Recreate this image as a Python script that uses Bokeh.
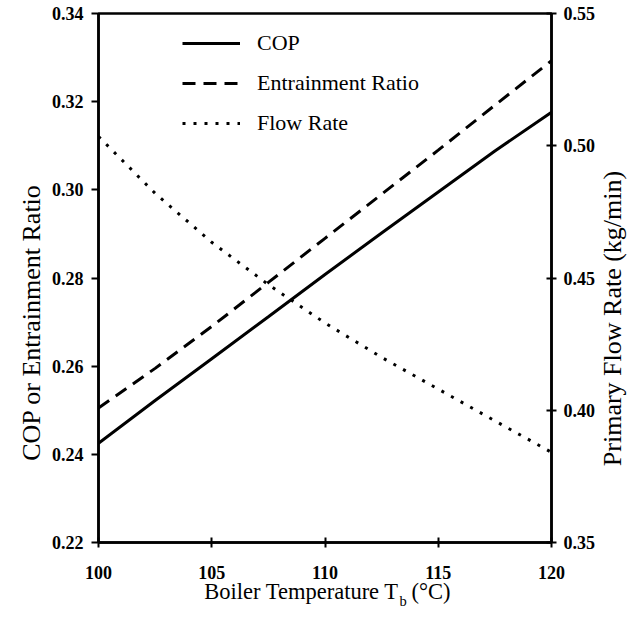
import math
from bokeh.plotting import figure
from bokeh.layouts import row
from bokeh.models import (Range1d, LinearAxis, FixedTicker, Legend, LegendItem,
                          PrintfTickFormatter, Label)
from bokeh.embed import file_html
from bokeh.resources import INLINE

# ---- data ----
temperature = [100, 102.5, 105, 107.5, 110, 112.5, 115, 117.5, 120]
cop = [0.2425, 0.2522, 0.2617, 0.2712, 0.2808, 0.2902, 0.2995, 0.3088, 0.3176]
entrainment = [0.2505, 0.2595, 0.2690, 0.2790, 0.2890, 0.2990, 0.3090, 0.3192, 0.3293]
flow_rate = [0.5035, 0.4820, 0.4635, 0.4475, 0.4330, 0.4200, 0.4080, 0.3960, 0.3841]

x_ticks = [100, 105, 110, 115, 120]
left_ticks = [0.22, 0.24, 0.26, 0.28, 0.30, 0.32, 0.34]
right_ticks = [0.35, 0.40, 0.45, 0.50, 0.55]

x_title = "Boiler Temperature T"
x_title_sub = "b"
x_title_unit = "(°C)"
left_title = "COP or Entrainment Ratio"
right_title = "Primary Flow Rate (kg/min)"

FONT = "Liberation Serif"

p = figure(width=598, height=624, output_backend="svg", toolbar_location=None,
           x_range=Range1d(100, 120), y_range=Range1d(0.22, 0.34),
           min_border_left=98, min_border_right=45, min_border_top=13,
           min_border_bottom=82)
p.extra_y_ranges = {"flow": Range1d(0.35, 0.55), "pxy": Range1d(0, 529)}
p.extra_x_ranges = {"px": Range1d(0, 455)}
p.grid.visible = False
p.outline_line_color = "black"
p.outline_line_width = 2.5
p.background_fill_color = "white"
p.border_fill_color = "white"

r_cop = p.line(temperature, cop, line_color="black", line_width=3)
r_ent = p.line(temperature, entrainment, line_color="black", line_width=3,
               line_dash="13 8")
r_flow = p.line(temperature, flow_rate, line_color="black", line_width=3,
                line_dash="3 8", y_range_name="flow")

def style_axis(ax):
    ax.axis_line_width = 2.5
    ax.axis_line_color = "black"
    ax.major_tick_line_width = 2
    ax.major_tick_line_color = "black"
    ax.minor_tick_line_color = None
    ax.major_label_text_font = FONT
    ax.major_label_text_font_style = "bold"
    ax.major_label_text_font_size = "18px"
    ax.major_label_text_color = "black"

def title_axis(ax, size):
    ax.axis_line_color = None
    ax.major_tick_line_color = None
    ax.minor_tick_line_color = None
    ax.major_tick_in = 0
    ax.major_tick_out = 0
    ax.minor_tick_in = 0
    ax.minor_tick_out = 0
    ax.major_label_text_font = FONT
    ax.major_label_text_font_style = "normal"
    ax.major_label_text_font_size = size
    ax.major_label_text_color = "black"

xa = p.xaxis[0]
style_axis(xa)
xa.ticker = FixedTicker(ticks=x_ticks)
xa.major_tick_in = 5
xa.major_tick_out = 5
xa.major_label_standoff = 18

ya = p.yaxis[0]
style_axis(ya)
ya.ticker = FixedTicker(ticks=left_ticks)
ya.formatter = PrintfTickFormatter(format="%.2f")
ya.major_tick_in = 0
ya.major_tick_out = 7
ya.major_label_standoff = 8

ra = LinearAxis(y_range_name="flow")
style_axis(ra)
ra.ticker = FixedTicker(ticks=right_ticks)
ra.formatter = PrintfTickFormatter(format="%.2f")
ra.major_tick_in = 5
ra.major_tick_out = 5
ra.major_label_standoff = 7
p.add_layout(ra, "right")

# ---- axis titles drawn as tick labels of auxiliary axes ----
xt = LinearAxis(x_range_name="px")
title_axis(xt, "22.5px")
xt.ticker = FixedTicker(ticks=[204, 334])
xt.major_label_overrides = {204: x_title, 334: x_title_unit}
xt.major_label_standoff = -3
p.add_layout(xt, "below")

xs = LinearAxis(x_range_name="px")
title_axis(xs, "14.5px")
xs.ticker = FixedTicker(ticks=[306])
xs.major_label_overrides = {306: x_title_sub}
xs.major_label_standoff = -14
p.add_layout(xs, "below")

lt = LinearAxis(y_range_name="pxy")
title_axis(lt, "26px")
lt.ticker = FixedTicker(ticks=[220])
lt.major_label_overrides = {220: left_title}
lt.major_label_orientation = "vertical"
lt.major_label_standoff = 3
p.add_layout(lt, "left")

legend = Legend(items=[LegendItem(label="COP", renderers=[r_cop]),
                       LegendItem(label="Entrainment Ratio", renderers=[r_ent]),
                       LegendItem(label="Flow Rate", renderers=[r_flow])],
                location=(84, 406))
legend.border_line_alpha = 0
legend.background_fill_alpha = 0
legend.padding = 0
legend.margin = 0
legend.glyph_width = 58
legend.glyph_height = 24
legend.label_height = 24
legend.spacing = 14
legend.label_standoff = 17
legend.label_text_font = FONT
legend.label_text_font_size = "22px"
legend.label_text_color = "black"
p.add_layout(legend, "center")

# narrow strip to the right holding the right-hand axis title
p2 = figure(width=29, height=624, output_backend="svg", toolbar_location=None,
            x_range=Range1d(0, 1), y_range=Range1d(0, 1),
            x_axis_location=None, y_axis_location=None,
            min_border=0, min_border_left=0, min_border_right=0,
            min_border_top=0, min_border_bottom=0)
p2.grid.visible = False
p2.outline_line_color = None
p2.background_fill_color = "white"
p2.border_fill_color = "white"
p2.add_layout(Label(x=14, y=224, x_units="screen", y_units="screen",
                    text=right_title, angle=math.pi / 2, text_font=FONT,
                    text_font_size="26px", text_align="center",
                    text_baseline="middle", text_color="black"))

layout = row(p, p2, spacing=0)
open("out.html", "w").write(file_html(layout, INLINE))
